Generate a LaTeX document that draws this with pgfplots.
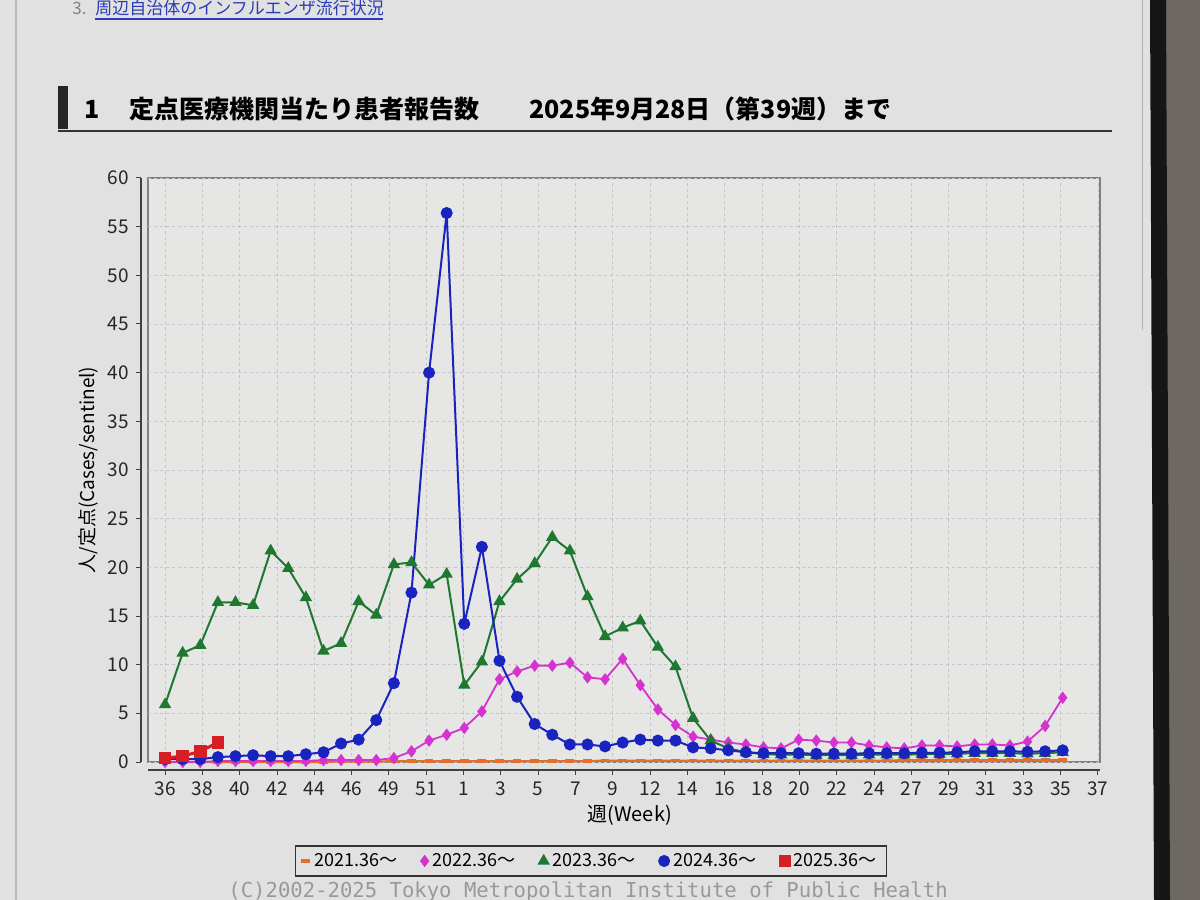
\documentclass[border=0pt]{standalone}
\usepackage{fontspec}
\setmainfont{Noto Sans CJK JP}
\newfontfamily\footfont{DejaVu Sans Mono}
\usepackage{pgfplots}
\pgfplotsset{compat=1.18}
\usepackage{pgfplotstable}

\definecolor{pagebg}{RGB}{226,225,226}
\definecolor{plotbg}{RGB}{230,230,229}
\definecolor{c21}{RGB}{232,110,40}
\definecolor{c22}{RGB}{214,50,208}
\definecolor{c23}{RGB}{30,120,48}
\definecolor{c24}{RGB}{25,35,190}
\definecolor{c25}{RGB}{215,30,35}
\definecolor{gridc}{RGB}{196,196,196}
\definecolor{bezel}{RGB}{22,22,22}
\definecolor{wall}{RGB}{110,104,98}
\definecolor{linkblue}{RGB}{40,60,180}

\pgfplotstableread{
idx o21 p22 g23 b24
0 0.0 0.0 5.9 0.3
1 0.0 0.0 11.2 0.3
2 0.0 0.0 12.0 0.3
3 0.0 0.1 16.4 0.5
4 0.0 0.1 16.4 0.6
5 0.0 0.1 16.1 0.7
6 0.0 0.1 21.7 0.6
7 0.0 0.1 19.9 0.6
8 0.0 0.1 16.9 0.8
9 0.0 0.2 11.4 1.0
10 0.05 0.2 12.2 1.9
11 0.05 0.2 16.5 2.3
12 0.05 0.2 15.1 4.3
13 0.1 0.4 20.3 8.1
14 0.1 1.1 20.5 17.4
15 0.1 2.2 18.2 40.0
16 0.1 2.8 19.3 56.4
17 0.1 3.5 7.9 14.2
18 0.1 5.2 10.3 22.1
19 0.1 8.5 16.5 10.4
20 0.1 9.3 18.8 6.7
21 0.1 9.9 20.4 3.9
22 0.1 9.9 23.1 2.8
23 0.1 10.2 21.7 1.8
24 0.1 8.7 17.0 1.8
25 0.15 8.5 12.9 1.6
26 0.15 10.6 13.8 2.0
27 0.15 7.9 14.5 2.3
28 0.15 5.4 11.8 2.2
29 0.15 3.8 9.8 2.2
30 0.15 2.6 4.5 1.5
31 0.15 2.3 2.2 1.4
32 0.15 2.0 1.4 1.2
33 0.15 1.8 1.0 1.0
34 0.15 1.5 0.8 0.9
35 0.15 1.4 0.75 0.9
36 0.15 2.3 0.75 0.9
37 0.15 2.2 0.7 0.85
38 0.15 2.0 0.7 0.85
39 0.15 2.0 0.7 0.85
40 0.15 1.7 0.75 0.9
41 0.15 1.5 0.75 0.9
42 0.2 1.4 0.75 0.9
43 0.2 1.7 0.8 0.95
44 0.2 1.7 0.8 0.95
45 0.2 1.6 0.85 1.0
46 0.2 1.8 0.9 1.1
47 0.2 1.8 0.9 1.1
48 0.2 1.7 0.9 1.1
49 0.2 2.1 0.85 1.05
50 0.2 3.7 0.9 1.1
51 0.2 6.6 1.0 1.2
}\flu

\begin{document}
\begin{tikzpicture}[x=0.5pt,y=0.5pt]
\fill[pagebg] (0,0) rectangle (1200,900);
\useasboundingbox (0,0) rectangle (1200,900);
% screen edges
\fill[wall] (1166,0) rectangle (1200,900);
\fill[bezel] (1150,900) -- (1166,900) -- (1170,0) -- (1154,0) -- cycle;
\draw[gray!60, line width=0.5pt] (1142,900) -- (1142,570);
\draw[gray!55, line width=0.6pt] (16,0) -- (16,900);
% top line
\node[anchor=base west, inner sep=0pt, font=\fontsize{8.5}{10}\selectfont, text=gray] at (72,900-15) {3.};
\node[anchor=base west, inner sep=0pt, font=\fontsize{8.5}{10}\selectfont, text=linkblue] at (95,900-15) {周辺自治体のインフルエンザ流行状況};
\draw[linkblue, line width=0.6pt] (95,900-19) -- (383,900-19);
% title
\fill[black!85] (58,900-129) rectangle (68,900-86);
\draw[black!80, line width=1pt] (58,900-131) -- (1112,900-131);
\node[anchor=base west, inner sep=0pt, font=\fontsize{12.5}{14}\selectfont\bfseries] at (84,900-119) {1};
\node[anchor=base west, inner sep=0pt, font=\fontsize{12.5}{14}\selectfont\bfseries] at (129,900-119) {定点医療機関当たり患者報告数};
\node[anchor=base west, inner sep=0pt, font=\fontsize{12.5}{14}\selectfont\bfseries] at (529,900-119) {2025年9月28日（第39週）まで};
% footer
\node[anchor=base west, inner sep=0pt, font=\footfont\fontsize{10.3}{12}\selectfont, text=gray!80] at (228,3) {(C)2002-2025 Tokyo Metropolitan Institute of Public Health};

\begin{axis}[
  at={(74pt,69pt)}, anchor=south west,
  scale only axis, width=476pt, height=292pt,
  xmin=-0.97, xmax=53.12, ymin=0, ymax=60,
  axis lines=left,
  axis line style={-, black!75, line width=0.6pt},
  axis x line shift=4pt, axis y line shift=3.5pt,
  axis background/.style={fill=plotbg, draw=black!50, line width=0.6pt},
  xtick={0,2.12,4.24,6.36,8.48,10.6,12.72,14.84,16.96,19.08,21.2,23.32,25.44,27.56,29.68,31.8,33.92,36.04,38.16,40.28,42.4,44.52,46.64,48.76,50.88,53},
  xticklabels={36,38,40,42,44,46,49,51,1,3,5,7,9,12,14,16,18,20,22,24,27,29,31,33,35,37},
  ytick={0,5,...,60},
  tick align=outside, major tick length=2.5pt,
  tick style={black!75, line width=0.5pt},
  grid=major,
  major grid style={gridc, dash pattern=on 1.5pt off 1.5pt, line width=0.35pt},
  tick label style={font=\fontsize{9.5}{10}\selectfont, text=black!85},
  /pgf/number format/assume math mode=true,
  xlabel={週(Week)}, ylabel={人/定点(Cases/sentinel)},
  every axis x label/.style={at={(axis description cs:0.506,-0.0908)}, anchor=center, font=\fontsize{10}{12}\selectfont},
  every axis y label/.style={at={(axis description cs:-0.063,0.5)}, anchor=center, rotate=90, font=\fontsize{9.5}{11}\selectfont},
  clip=false,
  legend columns=5,
  legend style={at={(axis description cs:0.4653,-0.1695)}, anchor=center,
    draw=black!80, line width=0.6pt, fill=pagebg,
    font=\fontsize{9}{10}\selectfont, inner xsep=3pt, inner ysep=1.5pt,
    /tikz/every even column/.append style={column sep=10pt}},
  legend image code/.code={\draw[#1] plot coordinates {(0.12cm,0cm)};},
]
\addplot[c21, line width=1pt, mark=-, mark size=2.2pt, mark options={line width=1.6pt}] table[x=idx,y=o21]{\flu};
\addlegendentry{2021.36～}
\addplot[c22, line width=0.9pt, mark=diamond*, mark size=2.4pt, mark options={fill=c22}] table[x=idx,y=p22]{\flu};
\addlegendentry{2022.36～}
\addplot[c23, line width=1pt, mark=triangle*, mark size=2.6pt, mark options={fill=c23}] table[x=idx,y=g23]{\flu};
\addlegendentry{2023.36～}
\addplot[c24, line width=1pt, mark=*, mark size=2.5pt, mark options={fill=c24}] table[x=idx,y=b24]{\flu};
\addlegendentry{2024.36～}
\addplot[c25, line width=1.5pt, mark=square*, mark size=2.4pt, mark options={fill=c25}] coordinates {(0,0.4) (1,0.6) (2,1.1) (3,2.0)};
\addlegendentry{2025.36～}
\end{axis}
\end{tikzpicture}
\end{document}
